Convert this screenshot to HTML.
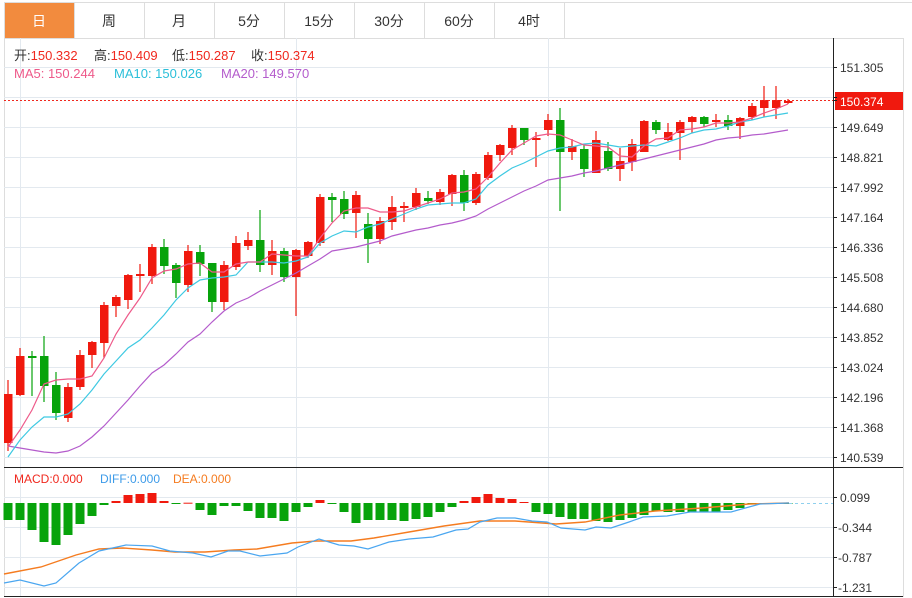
<!DOCTYPE html>
<html><head><meta charset="utf-8">
<style>
html,body{margin:0;padding:0;background:#fff;width:912px;height:598px;overflow:hidden;font-family:"Liberation Sans","Noto Sans CJK SC",sans-serif;}
svg{position:absolute;left:0;top:0;}
</style></head><body>
<svg id="s" width="912" height="598" viewBox="0 0 912 598" xmlns="http://www.w3.org/2000/svg" font-family="Liberation Sans, Noto Sans CJK SC, sans-serif">
<rect x="0" y="0" width="912" height="598" fill="#fff"/>
<line x1="4" y1="2.5" x2="912" y2="2.5" stroke="#ddd"/>
<line x1="4" y1="38.5" x2="903" y2="38.5" stroke="#ddd"/>
<rect x="5" y="3" width="69" height="35" fill="#f28b3e"/>
<g stroke="#ddd">
<line x1="74.5" y1="3" x2="74.5" y2="38"/><line x1="144.5" y1="3" x2="144.5" y2="38"/><line x1="214.5" y1="3" x2="214.5" y2="38"/><line x1="284.5" y1="3" x2="284.5" y2="38"/><line x1="354.5" y1="3" x2="354.5" y2="38"/><line x1="424.5" y1="3" x2="424.5" y2="38"/><line x1="494.5" y1="3" x2="494.5" y2="38"/><line x1="564.5" y1="3" x2="564.5" y2="38"/>
<line x1="4.5" y1="3" x2="4.5" y2="597"/><line x1="903.5" y1="38" x2="903.5" y2="597"/>
</g>
<g font-size="14" text-anchor="middle" fill="#333">
<text x="39" y="26" fill="#fff">日</text><text x="109" y="26">周</text><text x="179" y="26">月</text><text x="249" y="26">5分</text><text x="319" y="26">15分</text><text x="389" y="26">30分</text><text x="459" y="26">60分</text><text x="529" y="26">4时</text>
</g>
<g stroke="#e3e9ef" id="grid"></g>
<g font-size="13">
<text x="14" y="60" fill="#333">开:<tspan fill="#f0281e">150.332</tspan></text>
<text x="94" y="60" fill="#333">高:<tspan fill="#f0281e">150.409</tspan></text>
<text x="172" y="60" fill="#333">低:<tspan fill="#f0281e">150.287</tspan></text>
<text x="251" y="60" fill="#333">收:<tspan fill="#f0281e">150.374</tspan></text>
<text x="14" y="78" fill="#ee5a8a">MA5: 150.244</text>
<text x="114" y="78" fill="#2bbfd9">MA10: 150.026</text>
<text x="221" y="78" fill="#b45ccc">MA20: 149.570</text>
<text x="14" y="483" font-size="12" fill="#f0281e">MACD:0.000</text>
<text x="100" y="483" font-size="12" fill="#3d9be9">DIFF:0.000</text>
<text x="173" y="483" font-size="12" fill="#f57c20">DEA:0.000</text>
</g>
<g id="plot"></g>
<line x1="833.5" y1="38" x2="833.5" y2="597" stroke="#222"/>
<line x1="4" y1="467.5" x2="903" y2="467.5" stroke="#222"/>
<line x1="4" y1="596.5" x2="903" y2="596.5" stroke="#222"/>
<g font-size="12" fill="#333">
<text x="840" y="72">151.305</text><text x="840" y="132">149.649</text><text x="840" y="162">148.821</text><text x="840" y="192">147.992</text><text x="840" y="222">147.164</text><text x="840" y="252">146.336</text><text x="840" y="282">145.508</text><text x="840" y="312">144.680</text><text x="840" y="342">143.852</text><text x="840" y="372">143.024</text><text x="840" y="402">142.196</text><text x="840" y="432">141.368</text><text x="840" y="462">140.539</text>
<text x="840" y="502">0.099</text><text x="838" y="532">-0.344</text><text x="838" y="562">-0.787</text><text x="838" y="592">-1.231</text>
</g>
<line x1="4" y1="100.5" x2="833" y2="100.5" stroke="#f0281e" stroke-dasharray="2,2"/>
<rect x="835" y="92" width="68" height="18" fill="#f0190e"/>
<text x="840" y="106" font-size="12" fill="#fff">150.374</text>
</svg>
<script>
var NS="http://www.w3.org/2000/svg";
function el(p,t,a){var e=document.createElementNS(NS,t);for(var k in a)e.setAttribute(k,a[k]);p.appendChild(e);return e;}
var g=document.getElementById('grid'),P=document.getElementById('plot'),S=document.getElementById('s');
for(var y=67;y<=457;y+=30)el(g,'line',{x1:4,x2:833,y1:y+.5,y2:y+.5});
[497,527,557,587].forEach(function(y){el(g,'line',{x1:4,x2:833,y1:y+.5,y2:y+.5});});
[20,296,548].forEach(function(x){el(g,'line',{x1:x+.5,x2:x+.5,y1:38,y2:596});});
var ticks=[];for(var y=67;y<=457;y+=30)ticks.push(y);ticks.push(497,527,557,587,100);
ticks.forEach(function(y){el(S,'line',{x1:833,x2:837,y1:y+.5,y2:y+.5,stroke:'#222'});});
var R='#f0190e',G='#07a30b';
var C=[[394,443,380,451,R],[356,395,348,396,R],[356,358,351,396,G],[356,386,336,402,G],[385,413,372,420,G],[387,418,383,422,R],[355,387,350,390,R],[342,355,341,368,R],[305,343,302,358,R],[297,306,295,317,R],[275,300,274,309,R],[274,276,264,292,R],[247,276,244,284,R],[247,266,239,274,G],[265,283,263,298,G],[251,285,245,292,R],[252,264,245,276,G],[263,302,263,312,G],[265,302,261,310,R],[243,267,236,270,R],[240,246,232,250,R],[240,265,210,272,G],[251,265,240,275,R],[251,277,248,282,G],[250,277,249,316,R],[242,256,241,258,R],[197,243,194,246,R],[197,200,193,222,G],[199,214,191,219,G],[195,213,191,238,R],[224,239,213,263,G],[221,239,217,244,R],[207,222,196,230,R],[206,208,202,222,R],[193,207,188,210,R],[198,201,191,204,G],[192,202,189,205,R],[175,194,174,206,R],[175,203,170,211,G],[174,203,172,205,R],[155,178,152,180,R],[145,155,144,161,R],[128,148,125,155,R],[128,140,128,145,G],[138,140,132,167,R],[120,130,114,136,R],[120,152,108,211,G],[146,152,139,160,R],[149,169,145,177,G],[140,173,131,173,R],[151,169,142,171,G],[161,169,148,181,R],[144,162,139,171,R],[121,152,120,152,R],[122,130,120,134,G],[132,140,123,141,R],[122,133,120,160,R],[117,122,116,133,R],[117,124,116,127,G],[120,122,114,127,R],[120,126,115,130,G],[118,126,117,139,R],[106,117,103,120,R],[100,108,86,117,R],[100,108,86,119,R],[101,103,99,104,R]];
C.forEach(function(c,i){var x=8+12*i;el(P,'line',{x1:x,x2:x,y1:c[2],y2:c[3],stroke:c[4],'stroke-width':1.2});el(P,'rect',{x:x-4,y:c[0],width:8.5,height:Math.max(2,c[1]-c[0]),fill:c[4]});});
function pl(pts,col,w){el(P,'polyline',{points:pts.map(function(p){return p.join(',')}).join(' '),fill:'none',stroke:col,'stroke-width':w||1.2});}
var m5=[447,430,410,384,380,379,379,376,358,334,315,298,278,271,269,264,263,272,272,264,262,262,254,255,256,256,238,223,211,208,208,212,212,211,207,203,199,193,192,189,177,163,150,143,136,134,135,140,145,146,147,156,157,146,139,138,130,129,127,123,123,122,118,113,109,104];
var m10=[457,440,427,417,417,414,404,390,374,361,348,340,328,315,300,288,280,278,277,275,262,262,262,263,261,257,243,236,231,232,227,224,219,214,209,205,204,203,203,199,185,176,168,163,157,151,148,147,144,143,145,147,146,145,146,142,138,133,130,129,126,122,120,117,115,113];
var m20=[446,448,450,452,453,451,446,437,426,413,400,386,373,365,354,342,334,322,311,303,298,291,285,279,273,266,259,251,249,247,244,241,236,233,230,228,225,223,220,216,209,203,197,191,186,180,178,176,173,171,168,165,162,159,156,153,150,147,144,140,138,137,135,134,132,130];
function mp(a){return a.map(function(v,i){return [8+12*i,v];});}
pl(mp(m20),'#b45ccc');pl(mp(m10),'#3ec9e2');pl(mp(m5),'#ee5a8a');
var H=[520,520,530,542,545,535,524,516,505,501,495,494,493,501,504,502.7,510,515,506,506,511,518,518,521,512,507,500,504,512,523,520,520,520,521,519,517,512,507,501,497,494,498,499,502,512,514,517,519,519,521,522,520,518,515,511,512,512,512,512,512,510,508,504,503.5,503.5,503.5];
H.forEach(function(v,i){var x=8+12*i,z=503;var up=v<z;el(P,'rect',{x:x-4.5,y:Math.min(v,z),width:9,height:Math.max(1,Math.abs(v-z)),fill:up?R:G});});
el(P,'line',{x1:789,x2:833,y1:503.5,y2:503.5,stroke:'#8fd0ee','stroke-dasharray':'3,3'});
pl([[4,574],[41,567],[76,555],[99,549],[123,548],[152,550],[175,552],[205,552],[234,550],[257,549],[292,543],[316,541],[351,541],[374,538],[409,532],[444,526],[480,521],[515,521],[556,524],[585,522],[620,515],[655,511],[702,508],[749,504],[789,503]],'#f57c20',1.4);
pl([[4,583],[20,580],[44,586],[56,583],[79,563],[99,551],[126,545],[152,546],[170,551],[193,553],[211,557],[228,551],[240,551],[260,556],[287,553],[298,547],[319,539],[339,545],[354,546],[368,549],[389,542],[409,539],[433,537],[456,530],[468,529],[480,522],[497,518],[515,518],[532,521],[547,522],[561,528],[585,530],[596,527],[611,528],[629,522],[643,517],[667,516],[690,512],[731,512],[749,507],[760,504],[789,503]],'#4aa6f0',1.2);
</script>
</body></html>
